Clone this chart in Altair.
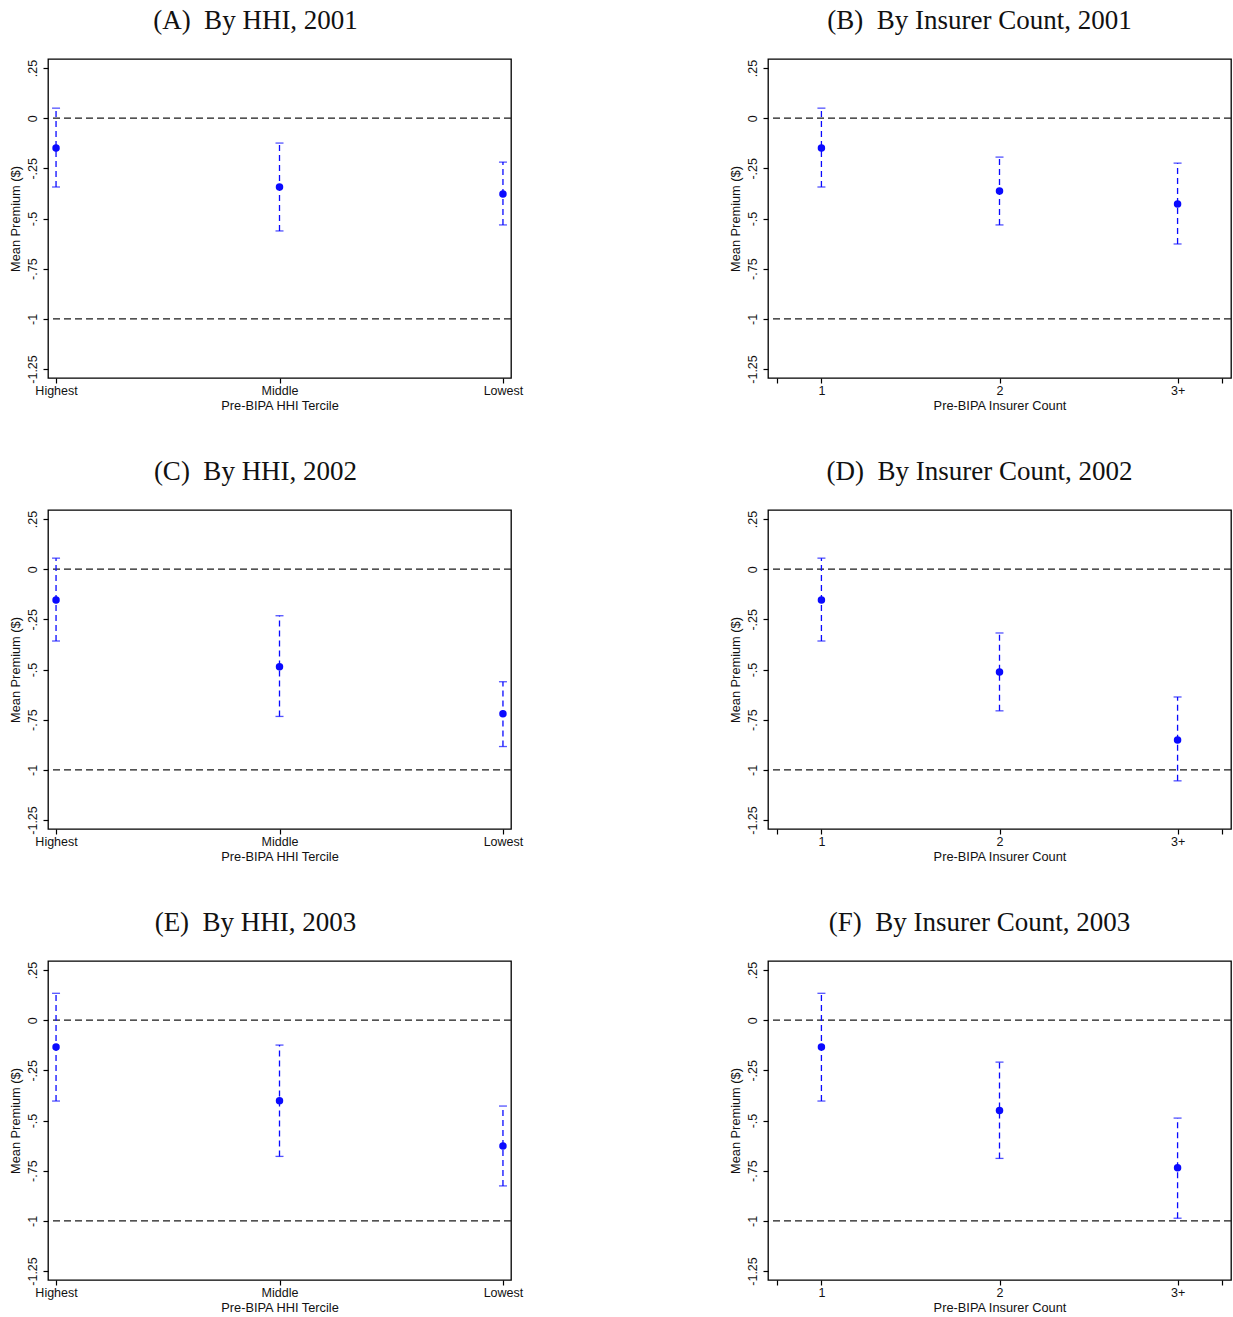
import altair as alt
import pandas as pd

# ---------------- data ----------------
x_pos = [1, 2, 3]
hhi_labels = ["Highest", "Middle", "Lowest"]
count_labels = ["1", "2", "3+"]

y_ticks = [0.25, 0, -0.25, -0.5, -0.75, -1, -1.25]
y_tick_labels = [".25", "0", "-.25", "-.5", "-.75", "-1", "-1.25"]
ref_lines = [0, -1]

titles = ["(A)\u00a0 By HHI, 2001", "(B)\u00a0 By Insurer Count, 2001",
          "(C)\u00a0 By HHI, 2002", "(D)\u00a0 By Insurer Count, 2002",
          "(E)\u00a0 By HHI, 2003", "(F)\u00a0 By Insurer Count, 2003"]

est_A = [-0.149, -0.343, -0.378]
lo_A = [-0.343, -0.562, -0.532]
hi_A = [0.050, -0.124, -0.219]

est_B = [-0.149, -0.363, -0.428]
lo_B = [-0.343, -0.532, -0.627]
hi_B = [0.050, -0.194, -0.224]

est_C = [-0.154, -0.486, -0.721]
lo_C = [-0.358, -0.734, -0.884]
hi_C = [0.055, -0.232, -0.561]

est_D = [-0.154, -0.512, -0.851]
lo_D = [-0.358, -0.706, -1.055]
hi_D = [0.055, -0.318, -0.637]

est_E = [-0.134, -0.402, -0.627]
lo_E = [-0.403, -0.679, -0.826]
hi_E = [0.134, -0.124, -0.428]

est_F = [-0.134, -0.450, -0.736]
lo_F = [-0.403, -0.689, -0.987]
hi_F = [0.134, -0.209, -0.488]

# ---------------- styling ----------------
BLUE = "#0a0aff"
Y_DOMAIN = [-1.295, 0.295]
PW, PH = 463, 319
SANS = "Liberation Sans"


def ternary(values, labels):
    expr = "''"
    for v, l in reversed(list(zip(values, labels))):
        expr = f"datum.value == {v} ? '{l}' : " + expr
    return expr


Y_LABEL_EXPR = ternary(y_ticks, y_tick_labels)


def panel(title, est, lo, hi, kind):
    df = pd.DataFrame({"x": x_pos, "est": est, "lo": lo, "hi": hi})
    if kind == "hhi":
        xdom = [0.964, 3.036]
        xvals = x_pos
        xlab = ternary(x_pos, hhi_labels)
        xtitle = "Pre-BIPA HHI Tercile"
        tdx = -24
    else:
        xdom = [0.70, 3.30]
        xvals = [0.75] + x_pos + [3.25]
        xlab = ternary(x_pos, count_labels)
        xtitle = "Pre-BIPA Insurer Count"
        tdx = -20

    xscale = alt.Scale(domain=xdom, nice=False, zero=False)
    yscale = alt.Scale(domain=Y_DOMAIN, nice=False, zero=False)

    x_axis = alt.Axis(values=xvals, labelExpr=xlab, title=xtitle, grid=False,
                      domain=False, labelFlush=False, labelOverlap=False,
                      tickSize=5, labelPadding=1, titlePadding=3)
    y_axis = alt.Axis(values=y_ticks, labelExpr=Y_LABEL_EXPR, title="Mean Premium ($)",
                      grid=False, domain=False, labelAngle=270, labelAlign="center",
                      labelBaseline="bottom", labelFlush=False, labelOverlap=False,
                      tickSize=5, labelPadding=4, titlePadding=4)

    base = alt.Chart(df)

    refs = alt.Chart(pd.DataFrame({"ref": ref_lines})).mark_rule(
        color="#1a1a1a", strokeDash=[7, 4], strokeWidth=1.3
    ).encode(y=alt.Y("ref:Q", scale=yscale, axis=y_axis))

    bars = base.mark_rule(color=BLUE, strokeDash=[6, 4], strokeWidth=1.3).encode(
        x=alt.X("x:Q", scale=xscale, axis=x_axis),
        y=alt.Y("lo:Q", scale=yscale),
        y2="hi:Q",
    )
    cap_lo = base.mark_tick(color=BLUE, orient="horizontal", size=8, thickness=1.3).encode(
        x=alt.X("x:Q", scale=xscale), y=alt.Y("lo:Q", scale=yscale)
    )
    cap_hi = base.mark_tick(color=BLUE, orient="horizontal", size=8, thickness=1.3).encode(
        x=alt.X("x:Q", scale=xscale), y=alt.Y("hi:Q", scale=yscale)
    )
    pts = base.mark_circle(color=BLUE, size=56, opacity=1).encode(
        x=alt.X("x:Q", scale=xscale), y=alt.Y("est:Q", scale=yscale)
    )

    return alt.layer(refs, bars, cap_lo, cap_hi, pts).properties(
        width=PW, height=PH,
        title=alt.TitleParams(title, font="Liberation Serif", fontSize=27,
                              fontWeight="normal", color="#111111", offset=24,
                              anchor="middle", frame="group", dx=tdx),
    )


panels = [
    panel(titles[0], est_A, lo_A, hi_A, "hhi"),
    panel(titles[1], est_B, lo_B, hi_B, "count"),
    panel(titles[2], est_C, lo_C, hi_C, "hhi"),
    panel(titles[3], est_D, lo_D, hi_D, "count"),
    panel(titles[4], est_E, lo_E, hi_E, "hhi"),
    panel(titles[5], est_F, lo_F, hi_F, "count"),
]

rows = [alt.hconcat(panels[i], panels[i + 1], spacing=204) for i in (0, 2, 4)]

chart = alt.vconcat(*rows, spacing=44).properties(
    padding={"left": 8, "top": 6, "right": 0, "bottom": 0},
    background="white",
).configure_view(
    stroke="#000000", strokeWidth=1.3
).configure_axis(
    labelFont=SANS, titleFont=SANS, labelFontSize=12.5, titleFontSize=12.8,
    labelColor="#111111", titleColor="#111111", titleFontWeight="normal",
    tickColor="#000000", tickWidth=1.2,
)

chart.save("out.html", embed_options={"renderer": "svg", "actions": False})
